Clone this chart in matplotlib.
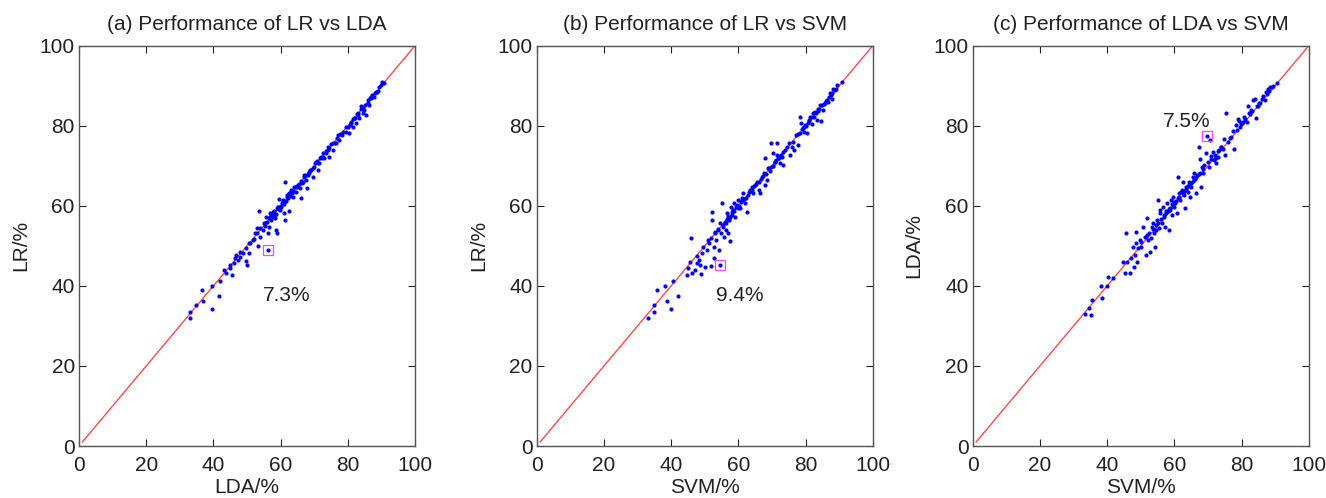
import numpy as np
import matplotlib.pyplot as plt

plt.rcParams['font.family'] = ['Liberation Sans', 'DejaVu Sans']

# (a) LR vs LDA : x = LDA, y = LR
lda_a = [32.9, 33.1, 34.7, 36.6, 36.9, 39.7, 39.7, 41.6, 42.1, 43.1, 43.8, 44.8, 45.5, 46.1,
         46.4, 46.8, 47.3, 47.8, 48.8, 49.6, 49.8, 50.0, 50.6, 51.0, 51.7, 52.5, 53.0, 53.2,
         53.5, 53.9, 54.7, 55.2, 55.7, 56.1, 56.2, 56.5, 56.7, 57.2, 57.7, 58.2, 58.5, 58.9,
         59.1, 59.4, 59.8, 60.4, 60.8, 61.1, 61.3, 61.4, 61.8, 62.4, 62.6, 63.1, 63.6, 64.1,
         64.6, 65.1, 65.9, 66.1, 66.8, 67.1, 67.6, 67.8, 68.3, 69.0, 69.5, 70.0, 70.5, 71.0,
         71.5, 72.0, 72.5, 73.0, 73.5, 74.0, 74.5, 75.0, 75.5, 76.5, 77.0, 77.4, 78.4, 79.4,
         79.9, 80.4, 81.0, 81.4, 81.9, 82.4, 82.9, 83.4, 83.9, 84.4, 84.9, 85.4, 85.9, 86.4,
         86.8, 87.3, 87.8, 88.3, 89.3, 90.3, 90.8,
         54.0, 55.0, 55.8, 56.4, 57.0, 57.5, 58.0, 58.6, 59.0, 59.6, 60.2, 60.8, 61.5, 62.0,
         62.8, 63.5, 64.3, 65.0, 66.0, 66.5, 67.5, 68.0, 68.8, 69.6, 70.2, 71.0, 71.8, 72.6,
         73.4, 74.5, 75.5, 76.2, 77.8, 78.6, 79.5, 80.5, 81.5, 82.2, 83.0, 84.0, 85.0, 86.0,
         87.0, 88.0, 89.0, 90.0, 50.5, 52.0, 53.0, 48.0, 45.0,
         55.3, 56.9, 57.8, 58.3, 59.3, 60.0, 60.6, 61.0, 62.2, 63.0, 63.8, 64.8, 65.6, 67.0,
         68.5, 70.8, 72.2, 74.2, 76.8, 80.8, 82.6, 84.6, 86.6, 88.6]
lr_a = [33.4, 32.1, 35.2, 39.0, 36.2, 40.0, 34.2, 37.5, 41.3, 44.0, 43.1, 44.4, 42.7, 45.6,
        46.9, 47.7, 46.5, 47.3, 48.1, 49.4, 46.2, 45.2, 48.1, 50.6, 51.5, 53.1, 54.5, 49.9,
        58.8, 52.3, 54.0, 55.8, 57.3, 48.9, 53.1, 54.8, 58.1, 56.5, 58.5, 56.9, 54.0, 53.1,
        59.8, 61.6, 59.0, 60.6, 61.5, 58.1, 66.0, 56.5, 62.3, 63.1, 58.8, 63.9, 62.3, 64.8,
        63.5, 65.2, 64.4, 61.9, 66.0, 67.7, 66.4, 64.4, 68.1, 68.9, 67.3, 69.8, 71.0, 68.9,
        70.6, 72.3, 73.1, 71.9, 73.3, 74.8, 72.3, 75.4, 73.9, 75.6, 77.7, 76.4, 77.7, 78.5,
        79.8, 78.1, 81.0, 79.8, 81.9, 80.6, 83.2, 81.9, 84.9, 83.2, 84.0, 82.7, 86.5, 85.2,
        86.9, 87.7, 87.3, 88.5, 89.8, 91.0, 90.6,
        54.5, 55.6, 56.0, 57.0, 57.4, 57.2, 58.6, 58.0, 59.5, 59.2, 60.0, 60.9, 61.2, 62.8,
        62.5, 63.2, 64.6, 64.7, 66.3, 65.8, 67.8, 67.6, 69.0, 69.5, 70.6, 70.7, 72.0, 72.2,
        73.6, 74.4, 75.8, 75.8, 78.0, 78.4, 79.8, 80.2, 81.8, 82.0, 82.8, 84.3, 85.2, 85.8,
        87.2, 88.2, 88.8, 90.2, 50.8, 51.8, 53.2, 48.5, 45.3,
        55.0, 57.3, 58.2, 57.8, 59.8, 59.6, 61.0, 60.4, 62.0, 63.4, 63.6, 65.0, 65.4, 67.3,
        68.4, 71.2, 71.9, 74.0, 77.0, 80.6, 82.9, 84.4, 86.9, 88.4]

# (b) LR vs SVM : x = SVM, y = LR
svm_b = [33.2, 35.0, 35.0, 35.7, 38.2, 38.7, 40.0, 40.4, 42.0, 44.8, 45.1, 45.6, 45.8, 46.1,
         47.1, 47.6, 47.8, 48.4, 48.6, 48.8, 49.1, 49.6, 50.1, 50.6, 50.9, 51.4, 51.8, 51.8,
         52.1, 52.3, 52.6, 52.8, 53.1, 53.4, 53.8, 54.1, 54.4, 54.6, 54.8, 55.1, 55.4, 55.8,
         56.0, 56.3, 56.7, 57.0, 57.3, 57.5, 57.7, 58.0, 58.3, 58.7, 59.0, 59.5, 60.0, 60.5,
         61.0, 61.5, 62.0, 62.5, 63.0, 63.5, 64.0, 64.5, 65.0, 65.5, 66.0, 66.5, 67.0, 67.5,
         68.0, 68.0, 68.5, 68.9, 69.4, 69.7, 70.2, 70.4, 70.9, 71.4, 71.6, 71.9, 72.4, 72.9,
         73.4, 73.9, 74.6, 75.2, 75.4, 75.9, 76.6, 77.2, 77.6, 78.2, 78.4, 78.7, 79.2, 79.6,
         79.9, 80.4, 80.9, 81.3, 81.8, 82.3, 82.8, 83.3, 83.8, 84.3, 84.5, 85.1, 85.8, 86.3,
         86.8, 87.3, 87.8, 88.3, 88.8, 89.5, 90.8,
         55.5, 56.5, 57.2, 58.0, 58.8, 59.3, 60.2, 61.2, 62.2, 63.2, 64.2, 65.2, 66.2, 67.2,
         68.2, 69.2, 70.2, 71.2, 72.2, 73.2, 76.2, 77.8, 79.0, 80.2, 81.0, 82.0, 83.0, 84.0,
         85.0, 86.0, 87.0, 88.0, 89.0, 53.0, 54.0,
         56.2, 56.8, 57.6, 58.5, 59.8, 60.8, 61.8, 63.8, 64.8, 66.8, 69.8, 70.8, 72.6, 79.4,
         80.6, 82.5, 83.6, 85.5, 87.5]
lr_b = [32.1, 33.4, 35.2, 39.0, 40.0, 36.2, 34.2, 41.3, 37.5, 42.7, 44.4, 46.0, 51.9, 43.1,
        44.0, 45.6, 47.5, 46.5, 45.2, 43.0, 48.1, 49.8, 44.8, 49.0, 51.5, 50.6, 51.9, 45.0,
        56.5, 58.4, 49.8, 46.9, 53.1, 51.5, 54.0, 49.0, 55.6, 45.1, 53.1, 60.6, 54.8, 52.3,
        56.0, 54.0, 58.1, 53.1, 56.5, 51.3, 59.8, 57.8, 59.0, 60.6, 57.3, 60.2, 61.5, 59.4,
        61.9, 63.1, 60.6, 58.5, 62.7, 63.9, 64.8, 63.1, 65.2, 66.0, 63.9, 63.1, 67.3, 68.3,
        65.2, 71.9, 66.4, 69.4, 68.8, 75.6, 70.0, 73.1, 71.0, 75.6, 72.6, 71.9, 70.6, 72.3,
        70.2, 73.9, 74.8, 75.8, 72.6, 74.8, 73.9, 77.7, 75.2, 78.1, 82.1, 80.6, 79.4, 78.5,
        80.1, 78.1, 81.4, 82.3, 80.4, 83.1, 83.5, 81.4, 84.3, 85.2, 81.2, 84.0, 85.6, 86.4,
        86.0, 88.1, 86.8, 89.3, 88.9, 90.2, 91.0,
        55.2, 56.8, 57.0, 58.5, 58.6, 59.6, 60.0, 61.5, 62.0, 63.4, 64.0, 65.5, 66.0, 67.5,
        68.0, 69.5, 70.0, 71.5, 72.0, 73.5, 76.0, 78.0, 79.2, 80.0, 81.3, 82.2, 83.2, 84.2,
        85.2, 86.2, 87.2, 88.2, 89.2, 53.4, 54.2,
        55.8, 57.4, 57.2, 59.0, 59.5, 61.0, 61.6, 63.6, 65.0, 66.6, 69.6, 71.0, 72.8, 79.6,
        80.8, 82.2, 83.8, 85.4, 87.8]

# (c) LDA vs SVM : x = SVM, y = LDA
svm_c = [33.3, 34.7, 35.1, 35.6, 38.1, 38.6, 39.9, 40.3, 41.8, 44.8, 45.3, 45.7, 46.0, 46.7,
         47.2, 47.7, 47.9, 48.2, 48.5, 48.7, 48.9, 49.2, 49.7, 50.2, 50.7, 51.2, 51.7, 51.9,
         52.2, 52.5, 52.7, 53.0, 53.2, 53.7, 53.9, 54.2, 54.5, 54.7, 55.1, 55.3, 55.6, 55.8,
         56.3, 56.6, 56.8, 57.3, 57.6, 57.8, 58.3, 58.6, 59.0, 59.3, 59.6, 59.8, 60.3, 60.8,
         61.0, 61.3, 61.8, 62.3, 62.6, 62.8, 63.3, 63.6, 64.0, 64.3, 64.6, 65.1, 65.4, 65.9,
         66.4, 66.7, 67.4, 67.7, 67.9, 68.1, 68.4, 68.9, 69.4, 69.7, 69.9, 70.4, 70.7, 70.9,
         71.4, 71.9, 72.4, 72.9, 73.4, 73.9, 74.4, 74.9, 75.2, 75.5, 76.0, 77.0, 77.5, 77.8,
         78.2, 78.8, 79.2, 79.5, 80.0, 80.8, 81.5, 81.8, 82.2, 82.8, 83.5, 84.0, 84.2, 84.8,
         85.6, 86.3, 86.9, 87.3, 87.9, 88.6, 89.3, 90.6,
         55.0, 56.0, 57.0, 58.0, 58.8, 59.5, 60.5, 61.5, 62.5, 63.5, 64.5, 65.5, 66.5, 67.5,
         68.5, 71.0, 72.0, 73.0, 74.0, 76.5, 78.5, 80.5, 81.0, 82.5, 84.5, 86.0, 87.5, 88.0,
         89.0, 53.5, 54.5,
         57.4, 58.4, 59.2, 60.0, 61.2, 62.0, 63.0, 64.2, 65.0, 66.0, 67.2, 72.5, 79.8, 83.0,
         85.2, 88.3, 50.0, 52.0]
lda_c = [33.1, 34.6, 32.7, 36.6, 40.0, 37.1, 40.0, 42.3, 41.9, 46.0, 43.3, 53.1, 46.0, 43.1,
         46.9, 49.8, 44.8, 47.7, 50.6, 53.5, 46.0, 49.4, 51.5, 49.8, 54.8, 52.1, 47.7, 56.9,
         51.5, 53.1, 48.5, 51.9, 54.8, 55.6, 53.1, 49.8, 54.0, 56.5, 61.5, 54.4, 58.1, 59.0,
         55.6, 59.8, 57.3, 54.8, 58.1, 60.6, 54.0, 59.0, 61.5, 57.8, 62.3, 59.8, 60.6, 58.1,
         67.3, 63.1, 61.5, 63.9, 66.0, 62.7, 59.4, 64.8, 63.5, 66.0, 62.3, 64.8, 67.3, 68.1,
         63.1, 67.7, 74.8, 71.6, 64.8, 69.8, 68.1, 70.1, 73.1, 77.4, 70.9, 69.8, 76.4, 72.5,
         73.5, 71.4, 70.6, 72.3, 73.9, 74.8, 74.3, 76.6, 72.7, 83.3, 76.0, 77.3, 78.8, 74.3,
         80.1, 81.8, 81.2, 79.8, 80.6, 82.3, 81.0, 84.9, 83.1, 84.0, 86.4, 86.8, 81.9, 84.9,
         85.6, 87.4, 86.4, 88.5, 89.3, 89.8, 89.9, 90.8,
         55.6, 56.8, 57.6, 58.6, 59.5, 60.2, 61.2, 62.3, 63.2, 64.3, 65.2, 66.3, 67.2, 68.3,
         69.2, 71.6, 72.8, 73.6, 74.6, 77.0, 79.0, 81.0, 81.6, 83.0, 85.0, 86.6, 88.0, 88.6,
         89.6, 54.2, 55.2,
         58.6, 59.2, 60.4, 61.0, 62.0, 63.4, 63.8, 65.0, 65.6, 66.8, 68.0, 72.0, 80.4, 83.6,
         85.8, 88.8, 51.0, 52.8]

panels = [
    (lda_a, lr_a, '(a) Performance of LR vs LDA', 'LDA/%', 'LR/%', (56.1, 48.9), '7.3%', (61.8, 37.7)),
    (svm_b, lr_b, '(b) Performance of LR vs SVM', 'SVM/%', 'LR/%', (54.6, 45.1), '9.4%', (60.3, 37.7)),
    (svm_c, lda_c, '(c) Performance of LDA vs SVM', 'SVM/%', 'LDA/%', (69.7, 77.4), '7.5%', (63.6, 81.0)),
]
lefts = [0.0596, 0.4048, 0.7336]
ticks = [0, 20, 40, 60, 80, 100]

fig = plt.figure(figsize=(13.26, 4.98), dpi=100)
for (x, y, title, xl, yl, hl, txt, tpos), left in zip(panels, lefts):
    ax = fig.add_axes([left, 0.1044, 0.2534, 0.8038])
    ax.plot([1, 100], [1, 100], color='#ff4a4a', lw=1.0)
    ax.plot(x, y, 'o', color='#0000ff', ms=3.0, mew=0)
    ax.plot(hl[0], hl[1], 's', ms=6.5, mfc='none', mec='#ff44ff', mew=0.9)
    ax.text(tpos[0], tpos[1], txt, ha='center', va='center', fontsize=15, color='#222222')
    ax.set_xlim(0, 100)
    ax.set_ylim(0, 100)
    ax.set_xticks(ticks)
    ax.set_yticks(ticks)
    ax.tick_params(direction='in', top=True, right=True, labelsize=15,
                   colors='#222222', length=5, width=0.8, pad=3)
    ax.tick_params(axis='x', pad=7)
    for s in ax.spines.values():
        s.set_color('#555555')
        s.set_linewidth(1.0)
    ax.set_title(title, fontsize=15, color='#222222', pad=11)
    ax.set_xlabel(xl, fontsize=15, color='#222222', labelpad=2)
    ax.set_ylabel(yl, fontsize=15, color='#222222', labelpad=7)

fig.savefig('out.png', dpi=100)
